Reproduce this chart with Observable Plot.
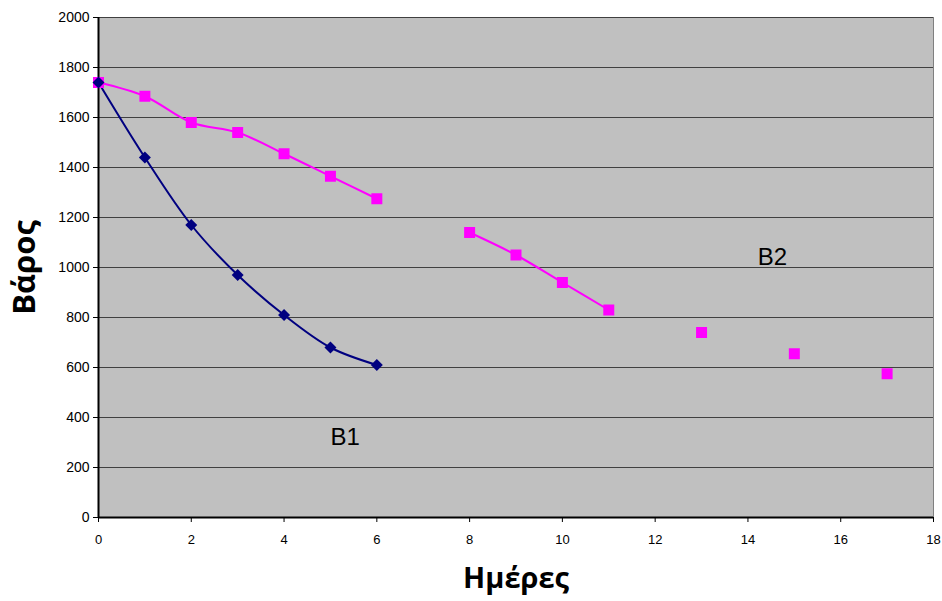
<!DOCTYPE html>
<html><head><meta charset="utf-8">
<script src="https://cdn.jsdelivr.net/npm/d3@7"></script>
<script src="https://cdn.jsdelivr.net/npm/@observablehq/plot@0.6"></script>
<style>body{margin:0;background:#fff}</style>
</head><body><div id="chart"></div>
<script>
const b1Days = [0, 1, 2, 3, 4, 5, 6];
const b1Weights = [1740, 1440, 1170, 970, 810, 680, 610];
const b2Days = [0, 1, 2, 3, 4, 5, 6, 7, 8, 9, 10, 11, 12, 13, 14, 15, 16, 17];
const b2Weights = [1740, 1685, 1580, 1540, 1455, 1365, 1275, null, 1140, 1050, 940, 830, null, 740, null, 655, null, 575];
const xTicks = [0, 2, 4, 6, 8, 10, 12, 14, 16, 18];
const yTicks = [0, 200, 400, 600, 800, 1000, 1200, 1400, 1600, 1800, 2000];
const seriesNames = ["B1", "B2"];
const labelDays = [5.32, 14.53];
const labelWeights = [320, 1040];
const xTitle = "Ημέρες";
const yTitle = "Βάρος";

const b1 = b1Days.map((d, i) => ({day: d, w: b1Weights[i]}));
const b2 = b2Days.map((d, i) => ({day: d, w: b2Weights[i]}));
const labels = seriesNames.map((n, i) => ({name: n, day: labelDays[i], w: labelWeights[i]}));

const chart = Plot.plot({
  width: 942, height: 601,
  marginLeft: 98, marginRight: 9, marginTop: 17, marginBottom: 84,
  style: {fontFamily: "'Liberation Sans', Arial, sans-serif", background: "#fff"},
  x: {domain: [0, 18]},
  y: {domain: [0, 2000]},
  marks: [
    Plot.frame({fill: "#c0c0c0", stroke: null}),
    Plot.ruleY(yTicks.slice(1), {stroke: "#404040", strokeWidth: 1}),
    Plot.ruleX([18], {stroke: "#808080", strokeWidth: 1}),
    Plot.axisY({ticks: yTicks, tickSize: 5, tickPadding: 4, tickFormat: d => String(d), label: null, fontSize: 14, stroke: "#000", color: "#000"}),
    Plot.axisX({ticks: xTicks, tickSize: 5, tickPadding: 12, tickFormat: d => String(d), label: null, fontSize: 13, fontFamily: "'Liberation Sans Narrow', 'Liberation Sans', sans-serif", color: "#000"}),
    Plot.ruleX([0], {stroke: "#000", strokeWidth: 2}),
    Plot.ruleY([0], {stroke: "#000", strokeWidth: 2}),
    Plot.line(b2, {x: "day", y: "w", stroke: "#ff00ff", strokeWidth: 2, curve: "catmull-rom"}),
    Plot.line(b1, {x: "day", y: "w", stroke: "#000080", strokeWidth: 2, curve: "catmull-rom"}),
    Plot.dot(b2, {x: "day", y: "w", symbol: "square", fill: "#ff00ff", r: 6.2}),
    Plot.dot(b1, {x: "day", y: "w", symbol: "diamond2", fill: "#000080", r: 5.4}),
    Plot.text(labels, {x: "day", y: "w", text: "name", fontSize: 24, fill: "#000"}),
    Plot.text([xTitle], {frameAnchor: "bottom", textAnchor: "middle", dy: 70, fontSize: 29, fontWeight: "bold", fontFamily: "'Open Sans', sans-serif", fill: "#000"}),
    Plot.text([yTitle], {frameAnchor: "left", textAnchor: "middle", dx: -73, rotate: -90, fontSize: 31, fontWeight: "bold", fontFamily: "'Open Sans', sans-serif", fill: "#000"})
  ]
});
document.getElementById("chart").appendChild(chart);
</script>
</body></html>
